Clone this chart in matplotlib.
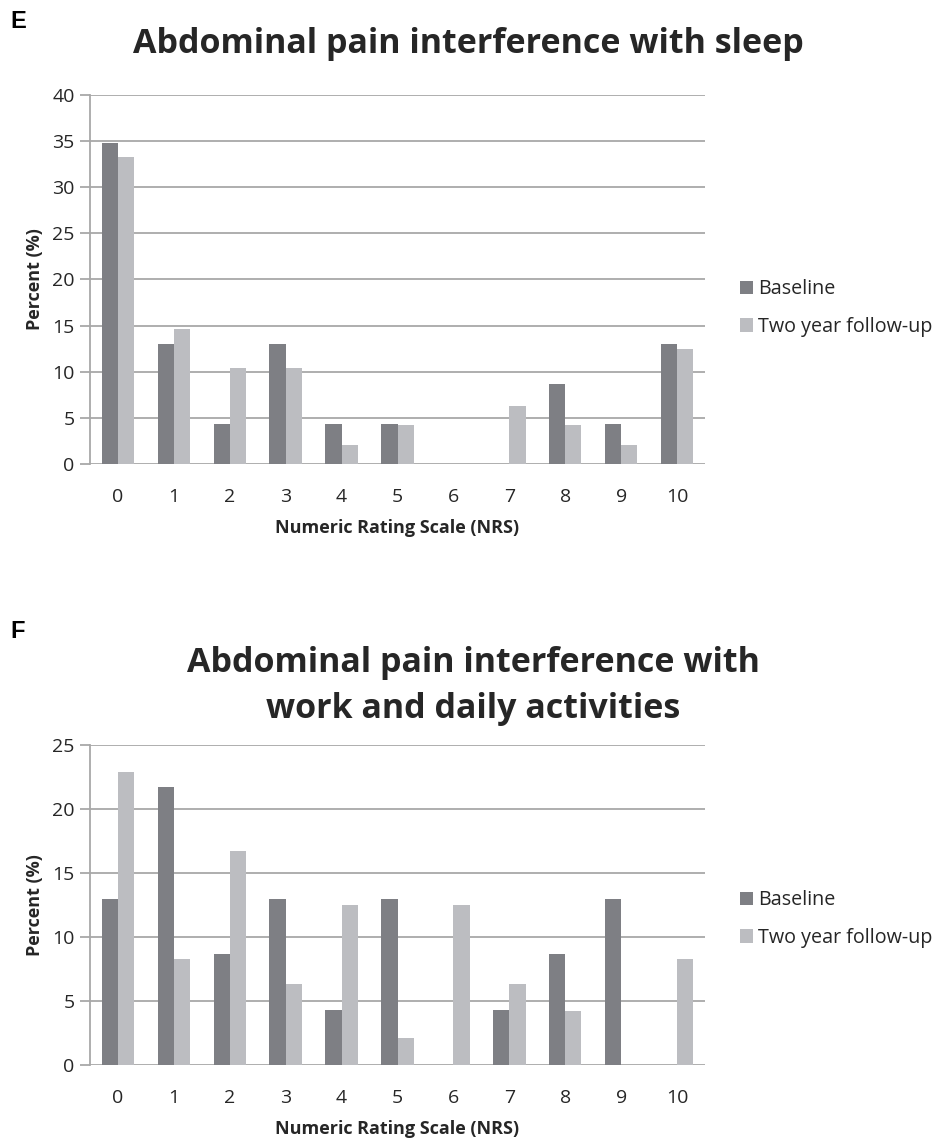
#Recreate the two-panel NRS bar charts (pain interference with sleep / daily activities).

import matplotlib.pyplot as plt
import numpy as np

plt.rcParams["font.family"] = ["Open Sans", "DejaVu Sans"]

NRS = list(range(11))

SLEEP_BASELINE = [34.8, 13.0, 4.3, 13.0, 4.3, 4.3, 0, 0, 8.7, 4.3, 13.0]
SLEEP_FOLLOWUP = [33.3, 14.6, 10.4, 10.4, 2.1, 4.2, 0, 6.3, 4.2, 2.1, 12.5]

WORK_BASELINE = [13.0, 21.7, 8.7, 13.0, 4.3, 13.0, 0, 4.3, 8.7, 13.0, 0]
WORK_FOLLOWUP = [22.9, 8.3, 16.7, 6.3, 12.5, 2.1, 12.5, 6.3, 4.2, 0, 8.3]

DARK = "#7e7f84"
LIGHT = "#bcbdc1"
GRID = "#a8a8a8"
TEXT = "#262626"

W, H = 939, 1140


def px_axes(fig, left, top, right, bottom):
    return fig.add_axes([left / W, 1 - bottom / H, (right - left) / W, (bottom - top) / H])


def draw_panel(ax, baseline, followup, ymax, legend_y):
    x = np.array(NRS)
    width = 0.29
    ax.bar(x - width / 2, baseline, width, color=DARK, label="Baseline", zorder=3)
    ax.bar(x + width / 2, followup, width, color=LIGHT, label="Two year follow-up", zorder=3)

    ax.set_xlim(-0.5, 10.5)
    ax.set_ylim(0, ymax)
    ax.set_yticks(range(0, ymax + 1, 5))
    ax.set_xticks(x)
    ax.grid(axis="y", color=GRID, linewidth=1.3, zorder=0)
    ax.set_axisbelow(True)

    for side in ("top", "right", "bottom"):
        ax.spines[side].set_visible(False)
    ax.spines["left"].set_color(GRID)
    ax.spines["left"].set_linewidth(1.3)

    ax.tick_params(axis="y", length=7, width=1.3, color=GRID, labelsize=14, labelcolor=TEXT, pad=4)
    ax.tick_params(axis="x", length=0, labelsize=14, labelcolor=TEXT, pad=17)

    ax.set_xlabel("Numeric Rating Scale (NRS)", fontsize=13, fontweight="bold", color=TEXT, labelpad=10)
    ax.set_ylabel("Percent (%)", fontsize=13, fontweight="bold", color=TEXT, labelpad=6)

    ax.legend(loc="center left", bbox_to_anchor=(722 / W, 1 - legend_y / H),
              bbox_transform=ax.figure.transFigure, frameon=False, fontsize=14.2,
              handlelength=0.65, handleheight=0.65, handletextpad=0.3, labelspacing=0.9,
              labelcolor=TEXT)


fig = plt.figure(figsize=(W / 100, H / 100), dpi=100)

ax_e = px_axes(fig, 90, 95, 705, 464)
draw_panel(ax_e, SLEEP_BASELINE, SLEEP_FOLLOWUP, 40, 308)
fig.text(468 / W, 1 - 44 / H, "Abdominal pain interference with sleep",
         ha="center", va="center", fontsize=24.5, fontweight="bold", color=TEXT)
fig.text(10 / W, 1 - 21 / H, "E", ha="left", va="center", fontsize=17, fontweight="bold",
         color="black", family=["Liberation Sans", "DejaVu Sans"])

ax_f = px_axes(fig, 90, 745, 705, 1065)
draw_panel(ax_f, WORK_BASELINE, WORK_FOLLOWUP, 25, 919)
fig.text(473 / W, 1 - 686 / H, "Abdominal pain interference with\nwork and daily activities",
         ha="center", va="center", fontsize=24.5, fontweight="bold", color=TEXT, linespacing=1.45)
fig.text(10 / W, 1 - 632 / H, "F", ha="left", va="center", fontsize=17, fontweight="bold",
         color="black", family=["Liberation Sans", "DejaVu Sans"])

fig.savefig("out.png", dpi=100)
